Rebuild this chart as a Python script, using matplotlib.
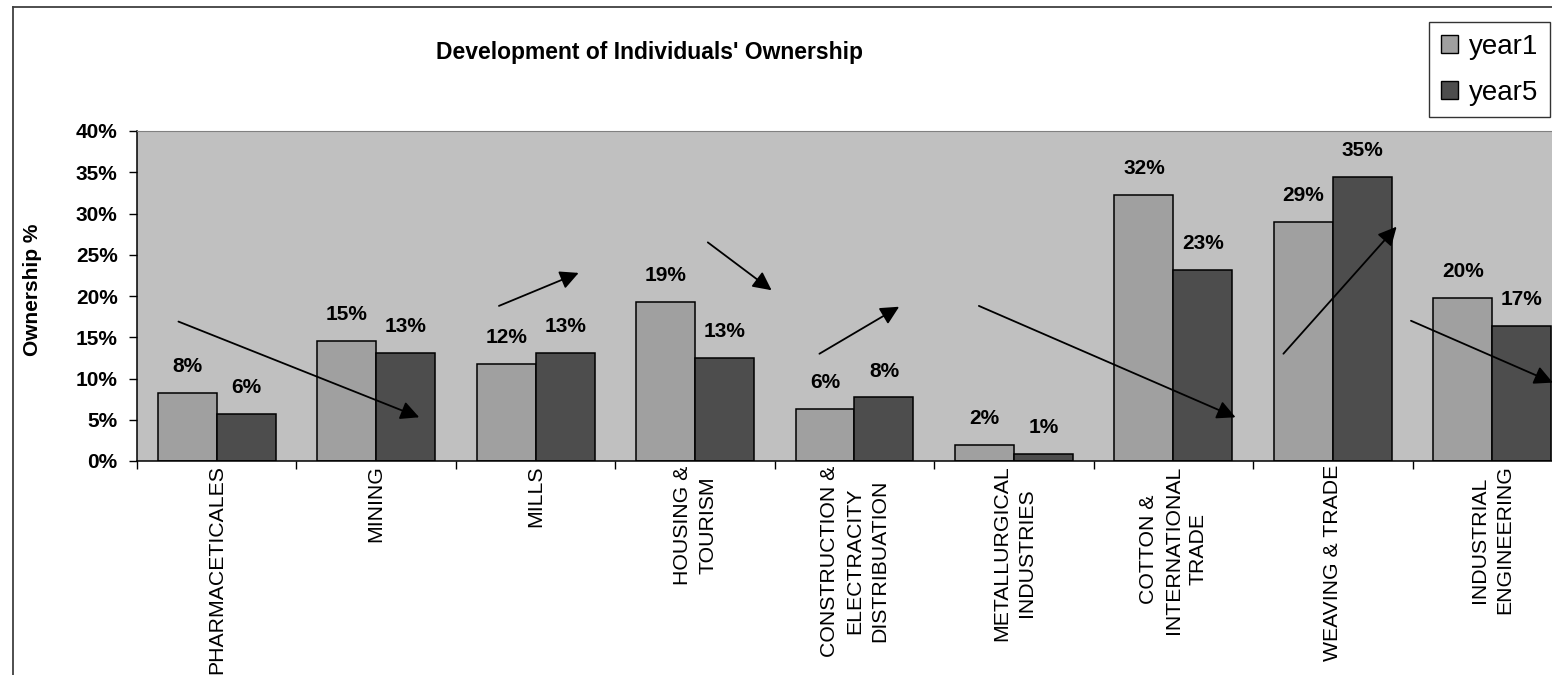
import matplotlib
matplotlib.use('Agg')
import matplotlib.pyplot as plt
from matplotlib import font_manager
from matplotlib.lines import Line2D
from matplotlib.patches import Patch
import numpy as np

# data
categories = ['PHARMACETICALES', 'MINING', 'MILLS', 'HOUSING &\nTOURISM',
              'CONSTRUCTION &\nELECTRACITY\nDISTRIBUATION', 'METALLURGICAL\nINDUSTRIES',
              'COTTON &\nINTERNATIONAL\nTRADE', 'WEAVING & TRADE', 'INDUSTRIAL\nENGINEERING']
year1 = [8.2, 14.5, 11.8, 19.3, 6.3, 1.9, 32.2, 29.0, 19.8]
year5 = [5.7, 13.1, 13.1, 12.5, 7.7, 0.9, 23.2, 34.4, 16.4]
labels1 = ['8%', '15%', '12%', '19%', '6%', '2%', '32%', '29%', '20%']
labels5 = ['6%', '13%', '13%', '13%', '8%', '1%', '23%', '35%', '17%']
yticks = [0, 5, 10, 15, 20, 25, 30, 35, 40]

# hand drawn trend arrows (start x, start y, end x, end y) in category / percent units
arrows = [(-0.24, 16.9, 1.27, 5.3),
          (1.77, 18.8, 2.27, 22.8),
          (3.08, 26.5, 3.48, 20.7),
          (3.78, 13.0, 4.28, 18.7),
          (4.78, 18.8, 6.39, 5.3),
          (6.69, 13.0, 7.40, 28.4),
          (7.49, 17.0, 8.38, 9.5)]

names = {f.name for f in font_manager.fontManager.ttflist}
if 'Liberation Sans Narrow' in names:
    narrow = 'Liberation Sans Narrow'
    title_size, xlab_size = 18, 18
else:
    narrow = 'Liberation Sans'
    title_size, xlab_size = 16.5, 15.3

plt.rcParams['font.family'] = ['Liberation Sans', 'DejaVu Sans']

fig = plt.figure(figsize=(15.52, 6.75), dpi=100)
W, H = 1552.0, 675.0
ax = fig.add_axes([137 / W, 1 - 461 / H, 1435 / W, 330 / H])
ax.set_facecolor('#c0c0c0')

x = np.arange(len(categories))
bw = 0.37
ax.bar(x - bw / 2, year1, bw, color='#a0a0a0', edgecolor='black', linewidth=1.1, label='year1', zorder=2)
ax.bar(x + bw / 2, year5, bw, color='#4d4d4d', edgecolor='black', linewidth=1.1, label='year5', zorder=2)

for i in range(len(categories)):
    ax.annotate(labels1[i], (x[i] - bw / 2, year1[i]), xytext=(0, 19), textcoords='offset points',
                ha='center', va='center', fontsize=15, fontweight='bold', zorder=4)
    ax.annotate(labels5[i], (x[i] + bw / 2, year5[i]), xytext=(0, 19), textcoords='offset points',
                ha='center', va='center', fontsize=15, fontweight='bold', zorder=4)

for x0, y0, x1, y1 in arrows:
    ax.annotate('', xy=(x1, y1), xytext=(x0, y0),
                arrowprops=dict(arrowstyle='-|>', color='black', lw=1.3, mutation_scale=28,
                                shrinkA=0, shrinkB=0), zorder=5, annotation_clip=False)

ax.set_xlim(-0.5, len(categories) - 0.5)
ax.set_ylim(0, 40)
ax.set_yticks(yticks)
ax.set_yticklabels([f'{v}%' for v in yticks], fontsize=15, fontweight='bold')
ax.tick_params(axis='y', direction='out', length=6, width=1, pad=8)

ax.set_xticks(x)
ax.set_xticklabels(categories, rotation=90, fontsize=xlab_size, family=narrow,
                   multialignment='center', linespacing=1.4)
ax.set_xticks(np.arange(len(categories) + 1) - 0.5, minor=True)
ax.tick_params(axis='x', which='major', length=0, pad=3)
ax.tick_params(axis='x', which='minor', direction='out', length=6, width=1)

for s in ['top', 'right']:
    ax.spines[s].set_color('#808080')
for s in ['left', 'bottom']:
    ax.spines[s].set_color('black')
    ax.spines[s].set_linewidth(1.1)

fig.text(649 / W, 1 - 52 / H, "Development of Individuals' Ownership", ha='center', va='center',
         fontsize=title_size, fontweight='bold', family=narrow)
fig.text(33 / W, 1 - 290 / H, 'Ownership %', rotation=90, ha='center', va='center',
         fontsize=15, fontweight='bold')

handles = [Patch(facecolor='#a0a0a0', edgecolor='black', linewidth=1),
           Patch(facecolor='#4d4d4d', edgecolor='black', linewidth=1)]
leg = fig.legend(handles, ['year1', 'year5'], loc='upper left', bbox_to_anchor=(1429 / W, 1 - 22 / H),
                 fontsize=20, frameon=True, fancybox=False, handlelength=0.62, handleheight=0.62,
                 handletextpad=0.4, labelspacing=0.72, borderpad=0.42, borderaxespad=0)
leg.get_frame().set_edgecolor('black')
leg.get_frame().set_linewidth(1)

# outer chart border
fig.add_artist(Line2D([13 / W, 1.0], [1 - 7 / H, 1 - 7 / H], color='#404040', lw=1.3))
fig.add_artist(Line2D([13 / W, 13 / W], [0, 1 - 7 / H], color='#404040', lw=1.3))

fig.savefig('out.png', dpi=100)
